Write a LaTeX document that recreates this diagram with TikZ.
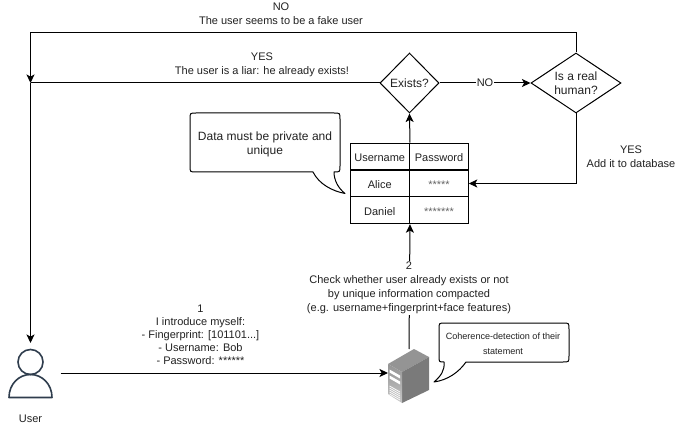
\documentclass[tikz,border=0pt]{standalone}
\usepackage{fontspec}
\setmainfont{Liberation Sans}
\usetikzlibrary{arrows.meta,shapes.geometric,calc}
\definecolor{txt}{HTML}{222222}
\definecolor{usercol}{HTML}{2F3D4D}
\newcommand{\fsN}{\fontsize{8.25}{10.5}\selectfont}
\newcommand{\fsM}{\fontsize{9}{10.5}\selectfont}
\newcommand{\fsS}{\fontsize{6.8}{11.2}\selectfont}
\tikzset{
  x=0.75pt,y=-0.75pt,
  every path/.style={line width=0.75pt},
  conn/.style={draw=black,-{Stealth[length=6.4pt,width=6pt,inset=1.6pt]}},
  plainline/.style={draw=black},
  lbl/.style={font=\fsN,text=txt,align=center,inner sep=0.8pt,fill=white},
  dec/.style={draw=black,diamond,inner sep=0pt,font=\fsM,text=txt,align=center},
  cell/.style={draw=black,inner sep=0pt,font=\fsN,text=txt,minimum height=20.1pt,text height=8.2pt,text depth=0pt},
  stars/.style={text=black!60},
  bubble/.style={draw=black,fill=white,line join=round},
  boxed/.style={inner sep=0pt,outer sep=0pt}
}
\begin{document}
\begin{tikzpicture}
\useasboundingbox[fill=white] (0,0) rectangle (675,424);

% decisions
\node[dec,aspect=1,minimum width=44.25pt,minimum height=45pt] (exists) at (409.5,83) {Exists?};
\node[dec,aspect=1.5,minimum width=67.5pt,minimum height=45pt] (human) at (576,83) {Is a real\\human?};

% table
\node[cell,minimum width=44.6pt] (hname) at (379.75,156.5) {Username};
\node[cell,minimum width=43.9pt] (hpass) at (439,156.5) {Password};
\node[cell,minimum width=44.6pt] (aname) at (379.75,183.5) {Alice};
\node[cell,stars,minimum width=43.9pt] (apass) at (439,183.5) {*****};
\node[cell,minimum width=44.6pt] (dname) at (379.75,210.3) {Daniel};
\node[cell,stars,minimum width=43.9pt] (dpass) at (439,210.3) {*******};

% user
\node[boxed,minimum width=45pt,minimum height=45pt] (user) at (30.5,373) {};
\draw[usercol,line width=1.2pt] (30.5,362) circle[radius=12.5];
\draw[usercol,line width=1.2pt,line join=round] (9,397.5) -- (52,397.5)
  .. controls (52,384) and (42,374.5) .. (30.5,374.5)
  .. controls (19,374.5) and (9,384) .. (9,397.5) -- cycle;
\node[font=\fsN,text=txt,inner sep=0pt] (userlabel) at (30.5,418.5) {User};

% server
\node[boxed,minimum width=31.5pt,minimum height=40.5pt] (server) at (409,376) {};
\fill[black!42] (414,349) -- (429,357) -- (402,372) -- (388,364) -- cycle;
\fill[black!52] (429,357) -- (429,390) -- (402,403) -- (402,372) -- cycle;
\shade[top color=black!42,bottom color=black!22] (388,364) -- (402,372) -- (402,403) -- (388,394) -- cycle;
\fill[white] (389.5,369.5) -- (400,375.5) -- (400,378.5) -- (389.5,372.5) -- cycle;
\fill[white] (389.5,375.5) -- (400,381.5) -- (400,384.5) -- (389.5,378.5) -- cycle;
\foreach \yy in {386,388,390,392,394}{
  \draw[white,line width=0.6pt] (389.5,\yy) -- (400,\yy+6);
}

% connectors
\draw[conn] (exists.east) -- node[midway,font=\fsN,text=txt,fill=white,inner sep=0.8pt] (nolabel) {NO} (human.west);
\draw[conn] (human.south) |- (apass.east);
\draw[conn] (hname.north east) -- (exists.south);
\draw[conn] (server.north) -- (dname.south east);
\draw[conn] (human.north) -- ++(0,-20) -| (30.5,83);
\draw[plainline] (exists.west) -- (30.5,83);
\draw[conn] (30.5,83) -- (user.north);
\draw[conn] (user.east) -- (user.east -| server.west);

% labels
\node[lbl] (l1) at (281,14) {NO\\The user seems to be a fake user};
\node[lbl] (l2) at (262,64.5) {YES\\The user is a liar: he already exists!};
\node[lbl] (l3) at (631,156.5) {YES\\Add it to database};
\node[lbl] (l4) at (409,288) {2\\Check whether user already exists or not\\by unique information compacted\\(e.g. username+fingerprint+face features)};
\node[lbl,fill=none,font=\fontsize{8.25}{9.75}\selectfont] (l5) at (200.5,334.5) {1\\I introduce myself:\\- Fingerprint: [101101...]\\- Username: Bob\\- Password: ******};

% callouts
\draw[bubble] (196,113) -- (334,113) .. controls (340,113) .. (340,119) -- (340,166)
  .. controls (340,172) .. (334,172) .. controls (334,180) and (338,188) .. (345,193.5)
  .. controls (332,191) and (319,184) .. (313,172) -- (196,172)
  .. controls (190,172) .. (190,166) -- (190,119) .. controls (190,113) .. (196,113) -- cycle;
\node[font=\fsM,text=txt,align=center,inner sep=0pt] (c1) at (265,144.5) {Data must be private and\\unique};
\draw[bubble] (445,323) -- (563,323) .. controls (569,323) .. (569,329) -- (569,356)
  .. controls (569,362) .. (563,362) -- (466,362) .. controls (459,372) and (448,380) .. (434,382)
  .. controls (441,376) and (445,370) .. (444,362) .. controls (439,362) .. (439,356)
  -- (439,329) .. controls (439,323) .. (445,323) -- cycle;
\node[font=\fsS,text=txt,align=center,inner sep=0pt] (c2) at (503,344) {Coherence-detection of their\\statement};
\end{tikzpicture}
\end{document}
